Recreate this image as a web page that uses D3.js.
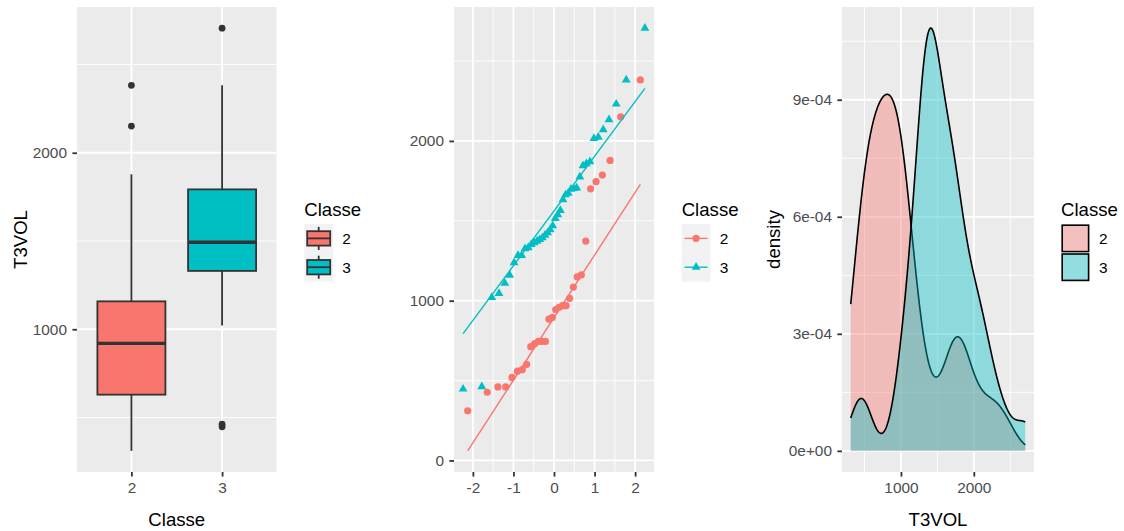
<!DOCTYPE html>
<html>
<head>
<meta charset="utf-8">
<script src="https://cdn.jsdelivr.net/npm/d3@7"></script>
<style>
  html, body { margin: 0; padding: 0; background: #ffffff; }
  svg text { font-family: "Liberation Sans", Arial, Helvetica, sans-serif; }
</style>
</head>
<body>
<svg id="chart" width="1124" height="531"></svg>
<script>
// ---- data -------------------------------------------------------------
const classes = ["2", "3"];
const classColors = ["#F8766D", "#00BFC4"];

// T3VOL observations per Classe (sorted)
const t3volClasse2 = [311, 427, 460, 460, 520, 559, 568, 602, 712, 731,
                      745, 745, 745, 885, 895, 945, 959, 969, 969, 1015,
                      1085, 1149, 1161, 1373, 1700, 1745, 1786, 1878, 2151, 2382];
const t3volClasse3 = [447, 462, 1021, 1046, 1110, 1160, 1238, 1284, 1284, 1326,
                      1332, 1352, 1363, 1373, 1383, 1394, 1410, 1425, 1445, 1470,
                      1515, 1539, 1565, 1632, 1663, 1673, 1698, 1702, 1706, 1775,
                      1845, 1858, 1870, 2016, 2024, 2071, 2133, 2231, 2382, 2706];

// axis ticks and labels
const boxYTicks = [1000, 2000];
const boxYMinor = [500, 1500, 2500];
const qqXTicks = [-2, -1, 0, 1, 2];
const qqXMinor = [-1.5, -0.5, 0.5, 1.5];
const qqYTicks = [0, 1000, 2000];
const qqYMinor = [500, 1500, 2500];
const densXTicks = [1000, 2000];
const densXMinor = [500, 1500, 2500];
const densYTicks = [0, 3e-4, 6e-4, 9e-4];
const densYLabels = ["0e+00", "3e-04", "6e-04", "9e-04"];
const densYMinor = [1.5e-4, 4.5e-4, 7.5e-4, 10.5e-4];

const legendTitle = "Classe";
const boxXTitle = "Classe", boxYTitle = "T3VOL";
const densXTitle = "T3VOL", densYTitle = "density";

// ---- helpers ----------------------------------------------------------
const samples = [t3volClasse2, t3volClasse3];
const svg = d3.select("#chart");
const FONT = '"Liberation Sans", Arial, Helvetica, sans-serif';
const TOP = 7, BOTTOM = 472;
const PANEL_BG = "#EBEBEB", KEY_BG = "#F2F2F2", DARK = "#333333", TICK_TXT = "#4D4D4D";
const TICK_FS = 15.4, TITLE_FS = 18.6;

function expand(lo, hi, f = 0.05) { const d = (hi - lo) * f; return [lo - d, hi + d]; }

// inverse standard normal CDF (Acklam)
function qnorm(p) {
  const a = [-3.969683028665376e+01, 2.209460984245205e+02, -2.759285104469687e+02, 1.383577518672690e+02, -3.066479806614716e+01, 2.506628277459239e+00];
  const b = [-5.447609879822406e+01, 1.615858368580409e+02, -1.556989798598866e+02, 6.680131188771972e+01, -1.328068155288572e+01];
  const c = [-7.784894002430293e-03, -3.223964580411365e-01, -2.400758277161838e+00, -2.549732539343734e+00, 4.374664141464968e+00, 2.938163982698783e+00];
  const d = [7.784695709041462e-03, 3.224671290700398e-01, 2.445134137142996e+00, 3.754408661907416e+00];
  const pl = 0.02425;
  let q, r;
  if (p < pl) {
    q = Math.sqrt(-2 * Math.log(p));
    return (((((c[0]*q+c[1])*q+c[2])*q+c[3])*q+c[4])*q+c[5]) / ((((d[0]*q+d[1])*q+d[2])*q+d[3])*q+1);
  } else if (p <= 1 - pl) {
    q = p - 0.5; r = q * q;
    return (((((a[0]*r+a[1])*r+a[2])*r+a[3])*r+a[4])*r+a[5])*q / (((((b[0]*r+b[1])*r+b[2])*r+b[3])*r+b[4])*r+1);
  } else {
    q = Math.sqrt(-2 * Math.log(1 - p));
    return -(((((c[0]*q+c[1])*q+c[2])*q+c[3])*q+c[4])*q+c[5]) / ((((d[0]*q+d[1])*q+d[2])*q+d[3])*q+1);
  }
}

function ppoints(n) {
  const a = n <= 10 ? 3 / 8 : 0.5;
  return d3.range(1, n + 1).map(i => (i - a) / (n + 1 - 2 * a));
}

function boxStats(vals) {
  const s = vals.slice().sort(d3.ascending);
  const q1 = d3.quantileSorted(s, 0.25), med = d3.quantileSorted(s, 0.5), q3 = d3.quantileSorted(s, 0.75);
  const iqr = q3 - q1;
  const lo = d3.min(s.filter(v => v >= q1 - 1.5 * iqr));
  const hi = d3.max(s.filter(v => v <= q3 + 1.5 * iqr));
  const out = s.filter(v => v < lo || v > hi);
  return { q1, med, q3, lo, hi, out };
}

function kde(vals, grid) {
  const n = vals.length;
  const s = vals.slice().sort(d3.ascending);
  const iqr = d3.quantileSorted(s, 0.75) - d3.quantileSorted(s, 0.25);
  const bw = 0.9 * Math.min(d3.deviation(s), iqr / 1.34) * Math.pow(n, -0.2);
  const k = 1 / (n * bw * Math.sqrt(2 * Math.PI));
  return grid.map(x => [x, k * d3.sum(s, v => Math.exp(-0.5 * ((x - v) / bw) ** 2))]);
}

// grey panel, white grid, ticks and labels via d3 axes
function drawPanel(x0, x1, xs, ys, opt) {
  const g = svg.append("g");
  g.append("rect").attr("x", x0).attr("y", TOP).attr("width", x1 - x0).attr("height", BOTTOM - TOP).attr("fill", PANEL_BG);
  const grid = g.append("g").attr("stroke", "#FFFFFF");
  (opt.yMinor || []).forEach(v => grid.append("line").attr("x1", x0).attr("x2", x1).attr("y1", ys(v)).attr("y2", ys(v)).attr("stroke-width", 0.9));
  (opt.xMinor || []).forEach(v => grid.append("line").attr("y1", TOP).attr("y2", BOTTOM).attr("x1", xs(v)).attr("x2", xs(v)).attr("stroke-width", 0.9));
  opt.yTicks.forEach(v => grid.append("line").attr("x1", x0).attr("x2", x1).attr("y1", ys(v)).attr("y2", ys(v)).attr("stroke-width", 1.8));
  opt.xTicks.forEach(v => grid.append("line").attr("y1", TOP).attr("y2", BOTTOM).attr("x1", xs(v)).attr("x2", xs(v)).attr("stroke-width", 1.8));

  const yAxis = d3.axisLeft(ys).tickValues(opt.yTicks).tickSize(4.6).tickPadding(5.4)
    .tickFormat(opt.yFormat || (d => String(d)));
  const ya = svg.append("g").attr("transform", `translate(${x0},0)`).call(yAxis);
  const xAxis = d3.axisBottom(xs).tickValues(opt.xTicks).tickSize(4.6).tickPadding(4.6)
    .tickFormat(opt.xFormat || (d => String(d)));
  const xa = svg.append("g").attr("transform", `translate(0,${BOTTOM})`).call(xAxis);
  [ya, xa].forEach(a => {
    a.attr("font-size", TICK_FS).attr("font-family", FONT);
    a.select(".domain").remove();
    a.selectAll(".tick line").attr("stroke", DARK).attr("stroke-width", 1.8);
    a.selectAll(".tick text").attr("fill", TICK_TXT).attr("font-size", TICK_FS)
      .style("font-size", TICK_FS + "px");
  });
  xa.selectAll(".tick text").attr("dy", "0.75em");
  return g;
}

function axisTitles(x0, x1, xTitle, yTitle, yTitleX) {
  if (xTitle) svg.append("text").attr("x", (x0 + x1) / 2).attr("y", 526).attr("text-anchor", "middle")
    .attr("fill", "#000").attr("font-size", TITLE_FS).text(xTitle);
  if (yTitle) svg.append("text").attr("transform", `translate(${yTitleX},${(TOP + BOTTOM) / 2}) rotate(-90)`)
    .attr("text-anchor", "middle").attr("fill", "#000").attr("font-size", TITLE_FS).text(yTitle);
}

const KEY = 28.8, KEY_TOP = 224;
function legend(x, drawKey) {
  const g = svg.append("g");
  g.append("text").attr("x", x).attr("y", 215.5).attr("fill", "#000").attr("font-size", TITLE_FS).text(legendTitle);
  classes.forEach((c, i) => {
    const y = KEY_TOP + i * KEY;
    g.append("rect").attr("x", x).attr("y", y).attr("width", KEY).attr("height", KEY).attr("fill", KEY_BG);
    drawKey(g, x, y, i);
    g.append("text").attr("x", x + 38).attr("y", y + KEY / 2).attr("dy", "0.36em")
      .attr("fill", "#000").attr("font-size", TICK_FS).text(c);
  });
}

// ---- shared value range ----------------------------------------------
const allVals = t3volClasse2.concat(t3volClasse3);
const [vMin, vMax] = d3.extent(allVals);

// ---- panel 1: boxplot ---------------------------------------------------
{
  const x0 = 77, x1 = 276.5;
  const xs = d3.scalePoint().domain(classes).range([x0, x1]).padding(0.6);
  const ys = d3.scaleLinear().domain(expand(vMin, vMax)).range([BOTTOM, TOP]);
  const g = drawPanel(x0, x1, xs, ys, { xTicks: classes, yTicks: boxYTicks, yMinor: boxYMinor });
  const bw = xs.step() * 0.75;
  samples.forEach((vals, i) => {
    const st = boxStats(vals);
    const cx = xs(classes[i]);
    g.append("line").attr("x1", cx).attr("x2", cx).attr("y1", ys(st.q3)).attr("y2", ys(st.hi)).attr("stroke", DARK).attr("stroke-width", 1.8);
    g.append("line").attr("x1", cx).attr("x2", cx).attr("y1", ys(st.q1)).attr("y2", ys(st.lo)).attr("stroke", DARK).attr("stroke-width", 1.8);
    g.append("rect").attr("x", cx - bw / 2).attr("width", bw).attr("y", ys(st.q3)).attr("height", ys(st.q1) - ys(st.q3))
      .attr("fill", classColors[i]).attr("stroke", DARK).attr("stroke-width", 1.8);
    g.append("line").attr("x1", cx - bw / 2).attr("x2", cx + bw / 2).attr("y1", ys(st.med)).attr("y2", ys(st.med)).attr("stroke", DARK).attr("stroke-width", 3.4);
    st.out.forEach(v => g.append("circle").attr("cx", cx).attr("cy", ys(v)).attr("r", 3.4).attr("fill", DARK));
  });
  axisTitles(x0, x1, boxXTitle, boxYTitle, 26.5);
  legend(304.3, (lg, x, y, i) => {
    const cx = x + KEY / 2;
    lg.append("line").attr("x1", cx).attr("x2", cx).attr("y1", y + KEY * 0.1).attr("y2", y + KEY * 0.9).attr("stroke", DARK).attr("stroke-width", 1.8);
    lg.append("rect").attr("x", x + KEY * 0.1).attr("y", y + KEY * 0.25).attr("width", KEY * 0.8).attr("height", KEY * 0.5)
      .attr("fill", classColors[i]).attr("stroke", DARK).attr("stroke-width", 1.8);
    lg.append("line").attr("x1", x + KEY * 0.1).attr("x2", x + KEY * 0.9).attr("y1", y + KEY / 2).attr("y2", y + KEY / 2).attr("stroke", DARK).attr("stroke-width", 1.8);
  });
}

// ---- panel 2: normal QQ plot ------------------------------------------
{
  const x0 = 454, x1 = 654;
  const qq = samples.map(vals => {
    const s = vals.slice().sort(d3.ascending);
    const th = ppoints(s.length).map(qnorm);
    const pts = s.map((v, j) => [th[j], v]);
    const q1 = d3.quantileSorted(s, 0.25), q3 = d3.quantileSorted(s, 0.75);
    const z1 = qnorm(0.25), z3 = qnorm(0.75);
    const slope = (q3 - q1) / (z3 - z1), icpt = q1 - slope * z1;
    const ext = d3.extent(th);
    return { pts, line: ext.map(t => [t, icpt + slope * t]) };
  });
  const xs = d3.scaleLinear().domain(expand(...d3.extent(qq.flatMap(d => d.pts.map(p => p[0]))))).range([x0, x1]);
  const yAll = qq.flatMap(d => d.pts.map(p => p[1]).concat(d.line.map(p => p[1])));
  const ys = d3.scaleLinear().domain(expand(...d3.extent(yAll))).range([BOTTOM, TOP]);
  const g = drawPanel(x0, x1, xs, ys, { xTicks: qqXTicks, xMinor: qqXMinor, yTicks: qqYTicks, yMinor: qqYMinor });
  const tri = d3.symbol().type(d3.symbolTriangle).size(34);
  qq.forEach((d, i) => {
    d.pts.forEach(p => {
      if (i === 0) g.append("circle").attr("cx", xs(p[0])).attr("cy", ys(p[1])).attr("r", 3.6).attr("fill", classColors[i]);
      else g.append("path").attr("d", tri).attr("transform", `translate(${xs(p[0])},${ys(p[1])})`).attr("fill", classColors[i]);
    });
  });
  const line = d3.line().x(p => xs(p[0])).y(p => ys(p[1]));
  qq.forEach((d, i) => g.append("path").attr("d", line(d.line)).attr("fill", "none").attr("stroke", classColors[i]).attr("stroke-width", 1.4));
  legend(681.7, (lg, x, y, i) => {
    const cy = y + KEY / 2;
    lg.append("line").attr("x1", x + KEY * 0.1).attr("x2", x + KEY * 0.9).attr("y1", cy).attr("y2", cy).attr("stroke", classColors[i]).attr("stroke-width", 1.4);
    if (i === 0) lg.append("circle").attr("cx", x + KEY / 2).attr("cy", cy).attr("r", 3.6).attr("fill", classColors[i]);
    else lg.append("path").attr("d", tri).attr("transform", `translate(${x + KEY / 2},${cy})`).attr("fill", classColors[i]);
  });
}

// ---- panel 3: density -------------------------------------------------
{
  const x0 = 842, x1 = 1034;
  const grid = d3.range(512).map(k => vMin + (vMax - vMin) * k / 511);
  const dens = samples.map(vals => kde(vals, grid));
  const yMax = d3.max(dens.flat(), p => p[1]);
  const xs = d3.scaleLinear().domain(expand(vMin, vMax)).range([x0, x1]);
  const ys = d3.scaleLinear().domain(expand(0, yMax)).range([BOTTOM, TOP]);
  const g = drawPanel(x0, x1, xs, ys, {
    xTicks: densXTicks, xMinor: densXMinor, yTicks: densYTicks, yMinor: densYMinor,
    yFormat: d => densYLabels[densYTicks.indexOf(d)]
  });
  const area = d3.area().x(p => xs(p[0])).y0(ys(0)).y1(p => ys(p[1]));
  const upper = d3.line().x(p => xs(p[0])).y(p => ys(p[1]));
  dens.forEach((d, i) => {
    g.append("path").attr("d", area(d)).attr("fill", classColors[i]).attr("fill-opacity", 0.4);
    g.append("path").attr("d", upper(d)).attr("fill", "none").attr("stroke", "#000").attr("stroke-width", 1.6);
  });
  axisTitles(x0, x1, densXTitle, densYTitle, 779.5);
  legend(1061, (lg, x, y, i) => {
    lg.append("rect").attr("x", x + 1.2).attr("y", y + 1.2).attr("width", KEY - 2.4).attr("height", KEY - 2.4)
      .attr("fill", classColors[i]).attr("fill-opacity", 0.4).attr("stroke", "#000").attr("stroke-width", 1.6);
  });
}
</script>
</body>
</html>
